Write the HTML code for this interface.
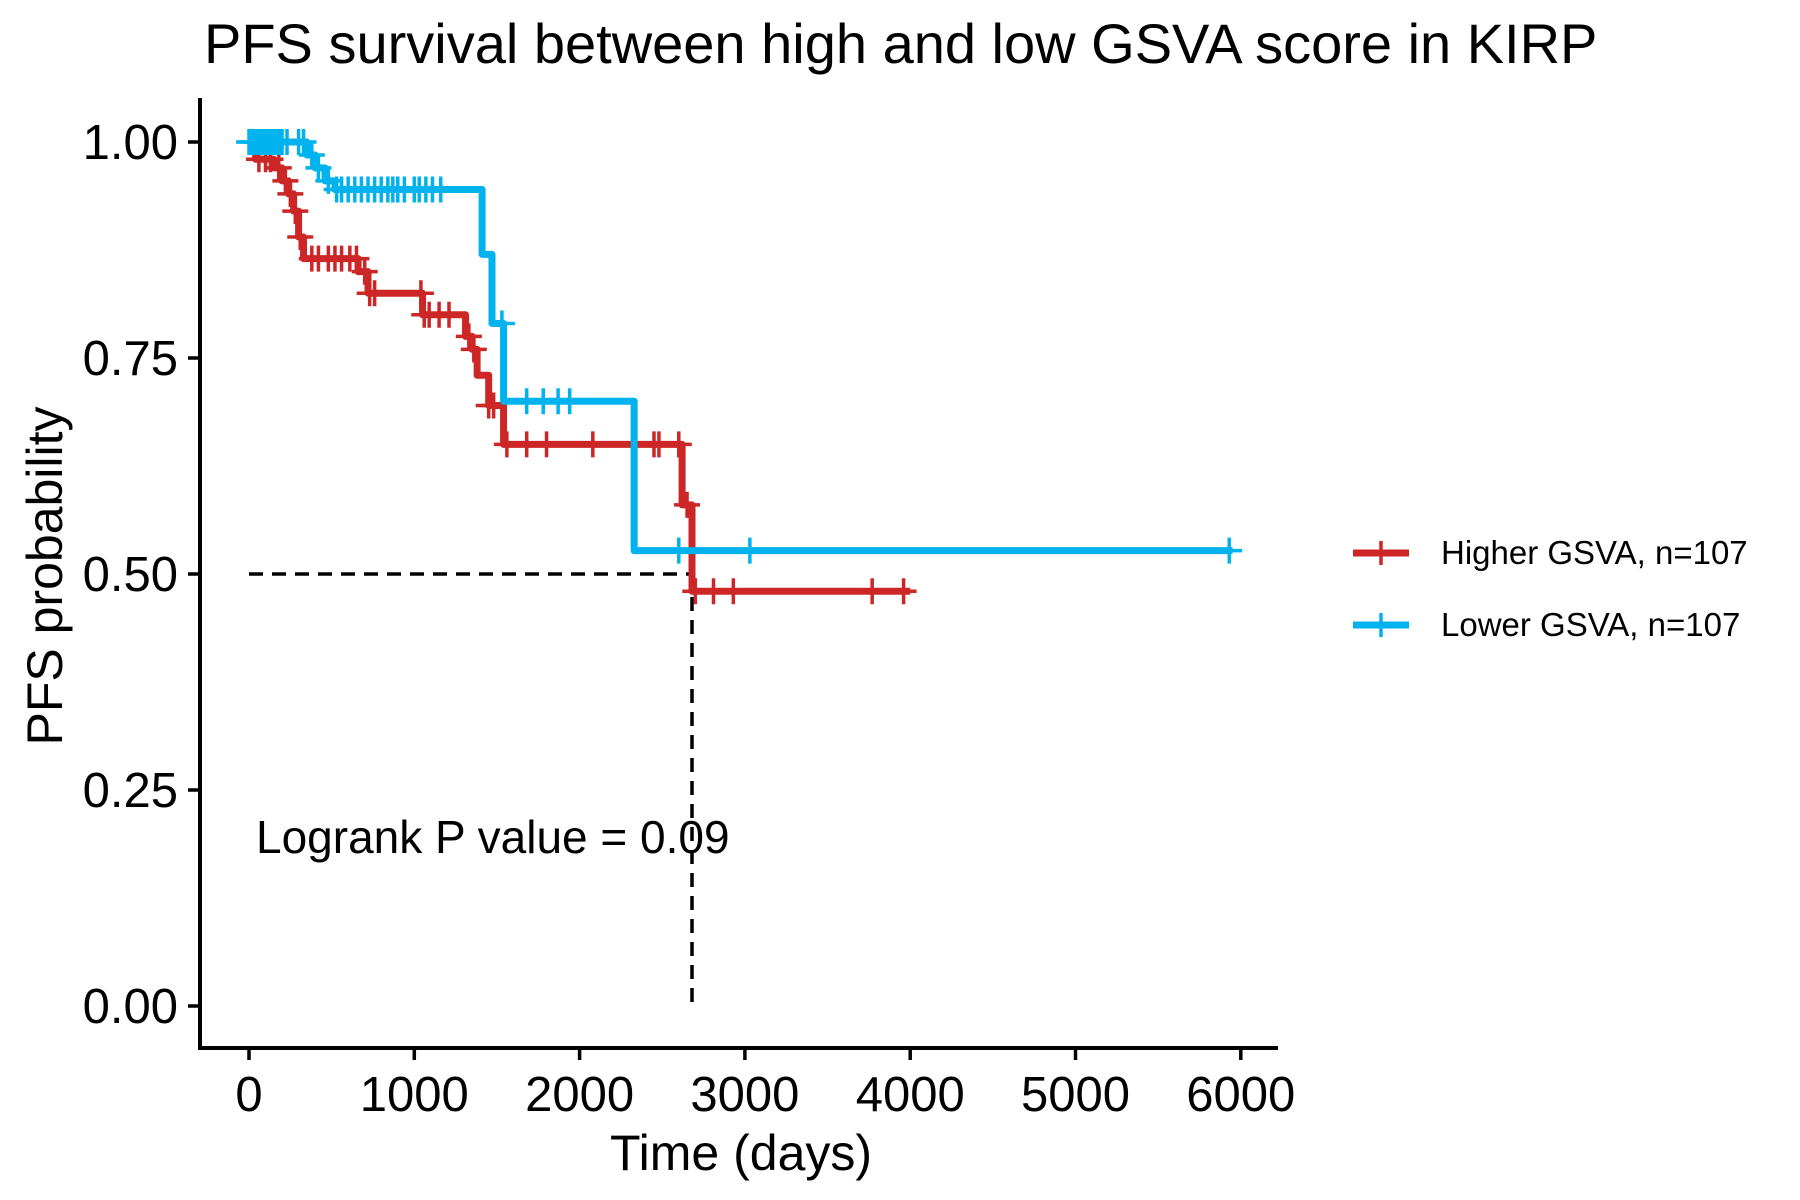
<!DOCTYPE html>
<html><head><meta charset="utf-8"><style>
html,body{margin:0;padding:0;background:#fff;}
svg{display:block;font-family:"Liberation Sans",Arial,sans-serif;}
</style></head><body>
<svg id="chart" width="1800" height="1200" viewBox="0 0 1800 1200" xmlns="http://www.w3.org/2000/svg">
<text x="204" y="63" font-size="56" fill="#000">PFS survival between high and low GSVA score in KIRP</text>
<g id="plot"></g>
<text x="741" y="1170" font-size="50" text-anchor="middle">Time (days)</text>
<text transform="translate(62,576) rotate(-90)" font-size="50" text-anchor="middle">PFS probability</text>
<text x="256" y="853" font-size="46">Logrank P value = 0.09</text>
<g>
<g>
<line x1="1353" y1="553" x2="1409" y2="553" stroke="#CD2626" stroke-width="7"/>
<line x1="1381" y1="541" x2="1381" y2="565" stroke="#CD2626" stroke-width="3.5"/>
<text x="1441" y="564" font-size="33">Higher GSVA, n=107</text></g>
<g>
<line x1="1353" y1="625" x2="1409" y2="625" stroke="#00B2EE" stroke-width="7"/>
<line x1="1381" y1="613" x2="1381" y2="637" stroke="#00B2EE" stroke-width="3.5"/>
<text x="1441" y="636" font-size="33">Lower GSVA, n=107</text></g>
</g>
</svg>
<script>
const xTicks = [0,1000,2000,3000,4000,5000,6000];
const yTicks = [0,0.25,0.5,0.75,1.0];
const yTickLabels = ["0.00","0.25","0.50","0.75","1.00"];
const highTimes = [0,40,150,200,240,270,300,330,660,720,1050,1310,1350,1380,1450,1540,2620,2680,4000];
const highSurv  = [1.0,0.98,0.97,0.955,0.94,0.92,0.89,0.865,0.85,0.825,0.80,0.775,0.76,0.73,0.695,0.65,0.58,0.48,0.48];
const highCensor = [60,100,130,180,220,250,280,310,380,420,480,520,560,610,650,700,730,760,1040,1060,1090,1150,1210,1330,1360,1450,1480,1560,1680,1800,2080,2450,2480,2600,2650,2700,2810,2930,3770,3960];
const lowTimes = [0,350,400,460,520,1410,1470,1540,2330,5950];
const lowSurv  = [1.0,0.985,0.97,0.955,0.945,0.87,0.79,0.70,0.527,0.527];
const lowCensor = [0,20,40,60,80,100,120,140,160,180,200,230,300,330,380,420,480,530,560,600,640,680,720,760,800,840,870,900,940,1000,1030,1070,1110,1160,1530,1680,1780,1870,1940,2600,3030,5930];
const medianTime = 2680;
const medianSurv = 0.5;

const NS="http://www.w3.org/2000/svg";
const X = t => 249 + t*0.1653;
const Y = p => 1006 - p*864;
const plot = document.getElementById('plot');
function mk(tag, attrs){const e=document.createElementNS(NS,tag);for(const k in attrs)e.setAttribute(k,attrs[k]);plot.appendChild(e);return e;}

let ax = mk('line',{x1:200,y1:98,x2:200,y2:1050,stroke:'#000','stroke-width':4});


let bx = mk('line',{x1:198,y1:1048,x2:1278,y2:1048,stroke:'#000','stroke-width':4});


xTicks.forEach(t=>{
  const l=mk('line',{x1:X(t),y1:1048,x2:X(t),y2:1060,stroke:'#000','stroke-width':3.5});
  
  
  const tx=mk('text',{x:X(t),y:1111,'font-size':49,'text-anchor':'middle'});
  tx.textContent=t;
  
  
});
yTicks.forEach((p,i)=>{
  const l=mk('line',{x1:188,y1:Y(p),x2:200,y2:Y(p),stroke:'#000','stroke-width':3.5});
  
  
  const tx=mk('text',{x:178,y:Y(p)+17,'font-size':49,'text-anchor':'end'});
  tx.textContent=yTickLabels[i];
  
  
});

let mh = mk('path',{d:`M${X(0)},${Y(medianSurv)} H${X(medianTime)} M${X(medianTime)},${Y(medianSurv)} V${Y(0)}`,stroke:'#000','stroke-width':3.5,'stroke-dasharray':'14 9',fill:'none'});



function survAt(times,surv,t){let s=surv[0];for(let i=0;i<times.length;i++){if(times[i]<=t)s=surv[i];}return s;}
function drawCurve(times,surv,censor,color,name){
  let d=`M${X(times[0])},${Y(surv[0])}`;
  for(let i=1;i<times.length;i++){d+=` H${X(times[i])} V${Y(surv[i])}`;}
  const p=mk('path',{d:d,stroke:color,'stroke-width':7,fill:'none','stroke-linejoin':'round'});
  
  
  censor.forEach(t=>{
    const s=survAt(times,surv,t);
    const c=mk('path',{d:`M${X(t)-13},${Y(s)} H${X(t)+13} M${X(t)},${Y(s)-13} V${Y(s)+13}`,stroke:color,'stroke-width':3.5,fill:'none'});
    
    
  });
}
drawCurve(highTimes,highSurv,highCensor,'#CD2626','higher-gsva');
drawCurve(lowTimes,lowSurv,lowCensor,'#00B2EE','lower-gsva');
</script>
</body></html>
